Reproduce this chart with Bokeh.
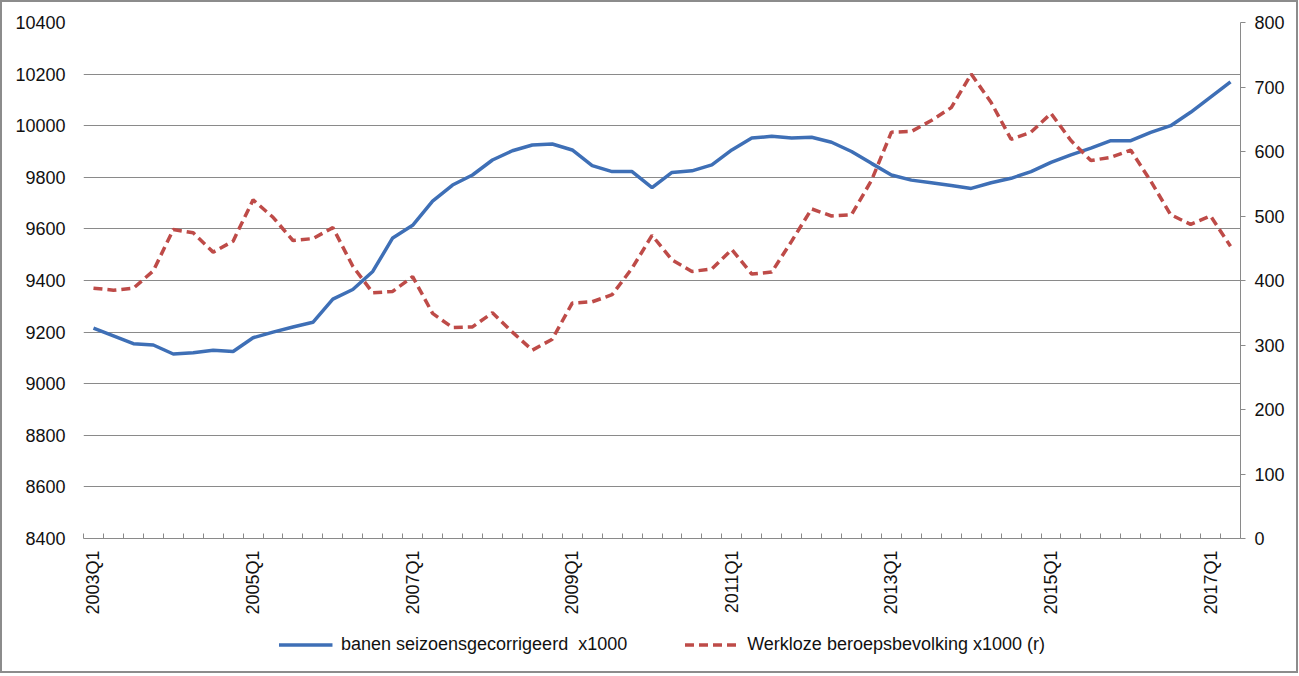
import math
from bokeh.plotting import figure
from bokeh.layouts import column
from bokeh.models import LinearAxis, Range1d, FixedTicker, Legend, LegendItem
from bokeh.embed import file_html
from bokeh.resources import INLINE

# ---- data ----
quarters = [f"{y}Q{q}" for y in range(2003, 2018) for q in range(1, 5)][:58]
label_quarters = ["2003Q1", "2005Q1", "2007Q1", "2009Q1", "2011Q1", "2013Q1", "2015Q1", "2017Q1"]

banen = [9215, 9185, 9155, 9150, 9115, 9120, 9130, 9125, 9178, 9200,
         9220, 9238, 9328, 9365, 9435, 9565, 9614, 9708, 9770, 9809,
         9867, 9903, 9925, 9929, 9906, 9845, 9822, 9822, 9760, 9819,
         9825, 9848, 9906, 9952, 9959, 9952, 9955, 9936, 9900, 9854,
         9809, 9789, 9779, 9768, 9757, 9779, 9796, 9822, 9858, 9887,
         9913, 9942, 9942, 9974, 10000, 10052, 10111, 10170]

werkloos = [388, 385, 388, 415, 479, 474, 444, 461, 525, 498,
            462, 465, 482, 422, 381, 383, 406, 349, 327, 328,
            350, 320, 292, 309, 365, 367, 378, 419, 470, 432,
            414, 418, 448, 410, 413, 461, 511, 500, 502, 555,
            630, 631, 648, 668, 720, 676, 619, 630, 659, 617,
            586, 591, 602, 554, 502, 487, 500, 453]

left_ticks = [8400, 8600, 8800, 9000, 9200, 9400, 9600, 9800, 10000, 10200, 10400]
right_ticks = [0, 100, 200, 300, 400, 500, 600, 700, 800]

label_banen = "banen seizoensgecorrigeerd  x1000"
label_werkloos = "Werkloze beroepsbevolking x1000 (r)"

# ---- styling ----
BLUE = "#3E6FB6"
RED = "#BE4B48"
GRID = "#8a8a8a"
BORDER = "2px solid #8c8c8c"
FONT = "Liberation Sans"
FS = "18px"

x = list(range(len(quarters)))

p = figure(frame_width=1153, frame_height=514,
           x_range=Range1d(-0.5, len(quarters) - 0.5),
           y_range=Range1d(left_ticks[0], left_ticks[-1]),
           output_backend="svg", toolbar_location=None,
           min_border_left=81, min_border_right=60,
           min_border_top=20, min_border_bottom=0,
           styles={"border": BORDER, "border-bottom": "none"})
p.outline_line_color = None
p.background_fill_color = "white"
p.border_fill_color = "white"

p.extra_y_ranges = {"right": Range1d(right_ticks[0], right_ticks[-1])}

# left axis
la = p.yaxis[0]
la.ticker = FixedTicker(ticks=left_ticks)
la.axis_line_color = None
la.major_tick_line_color = None
la.major_tick_in = 0
la.major_tick_out = 0
la.minor_tick_line_color = None
la.minor_tick_in = 0
la.minor_tick_out = 0
la.major_label_standoff = 18
la.major_label_text_font = FONT
la.major_label_text_font_size = FS
la.major_label_text_color = "#111111"

# right axis
ra = LinearAxis(y_range_name="right", ticker=FixedTicker(ticks=right_ticks))
ra.axis_line_color = GRID
ra.major_tick_line_color = GRID
ra.major_tick_in = 0
ra.major_tick_out = 5
ra.minor_tick_line_color = None
ra.minor_tick_in = 0
ra.minor_tick_out = 0
ra.major_label_standoff = 9
ra.major_label_text_font = FONT
ra.major_label_text_font_size = FS
ra.major_label_text_color = "#111111"
p.add_layout(ra, "right")

# x axis
label_idx = [quarters.index(q) for q in label_quarters]
xa = p.xaxis[0]
xa.ticker = FixedTicker(ticks=label_idx, minor_ticks=[i - 0.5 for i in range(len(quarters) + 1)])
xa.major_label_overrides = {i: quarters[i] for i in label_idx}
xa.major_label_orientation = math.pi / 2
xa.axis_line_color = GRID
xa.major_tick_line_color = None
xa.major_tick_in = 0
xa.major_tick_out = 0
xa.minor_tick_line_color = GRID
xa.minor_tick_in = 5
xa.minor_tick_out = 0
xa.major_label_standoff = 12
xa.major_label_text_font = FONT
xa.major_label_text_font_size = FS
xa.major_label_text_color = "#111111"

p.xgrid.grid_line_color = None
p.ygrid.ticker = FixedTicker(ticks=left_ticks)
p.ygrid.grid_line_color = GRID
p.ygrid.grid_line_width = 1

p.line(x, banen, line_color=BLUE, line_width=3.5)
p.line(x, werkloos, y_range_name="right", line_color=RED, line_width=3.5, line_dash="9 5")

# ---- legend strip below the chart (series kept out of view; only their legend swatches show) ----
lg = figure(width=1298, height=58, x_range=Range1d(0, 1), y_range=Range1d(0, 1),
            output_backend="svg", toolbar_location=None,
            x_axis_location=None, y_axis_location=None,
            min_border_left=0, min_border_right=0, min_border_top=0, min_border_bottom=0,
            styles={"border": BORDER, "border-top": "none"})
lg.outline_line_color = None
lg.xgrid.grid_line_color = None
lg.ygrid.grid_line_color = None
g1 = lg.line(x, banen, line_color=BLUE, line_width=3.5)
g2 = lg.line(x, werkloos, line_color=RED, line_width=3.5, line_dash="9 5")

legend = Legend(items=[LegendItem(label=label_banen, renderers=[g1]),
                       LegendItem(label=label_werkloos, renderers=[g2])],
                orientation="horizontal", location="center",
                padding=0, margin=0, spacing=57, glyph_width=54, glyph_height=18,
                label_height=18,
                label_standoff=9, label_text_font=FONT, label_text_font_size="18px",
                label_text_color="#111111", border_line_color=None,
                background_fill_alpha=0)
lg.add_layout(legend)

page = column(p, lg, spacing=0)
open("out.html", "w").write(file_html(page, INLINE))
